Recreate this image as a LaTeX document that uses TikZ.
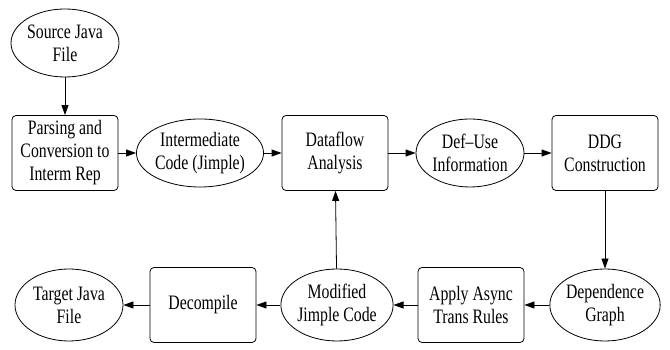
\documentclass[tikz,border=0pt]{standalone}
\usepackage{fontspec}
\setmainfont{Liberation Serif}[FakeStretch=0.77]
\usetikzlibrary{shapes.geometric,arrows.meta,positioning}

\begin{document}
\begin{tikzpicture}[x=1pt,y=1pt,->,>={Triangle[length=10pt,width=7pt]},auto,node distance=135pt,line width=0.8pt,
                    oval node/.style={ellipse,draw,minimum width=108pt,minimum height=68pt,inner sep=0pt,align=center,font=\fontsize{20.5}{23}\selectfont},
                    box node/.style={rectangle,rounded corners=4pt,draw,minimum width=106pt,minimum height=75pt,inner sep=0pt,align=center,font=\fontsize{20.5}{23}\selectfont}]

  \useasboundingbox (0,0) rectangle (670,350);

  \node[oval node] (1) at (65,307) {Source Java\\File};
  \node[box node] (2) at (65,197) {Parsing and\\Conversion to\\Interm Rep};
  \node[oval node] (3) [right of=2] {Intermediate\\Code (Jimple)};
  \node[box node] (4) [right of=3] {Dataflow\\Analysis};
  \node[oval node] (5) [right of=4] {Def--Use\\Information};
  \node[box node] (6) [right of=5] {DDG\\Construction};
  \node[oval node, minimum height=72pt] (7) [below of=6, node distance=152pt] {Dependence\\Graph};
  \node[box node] (8) [left of=7, node distance=134pt] {Apply Async\\Trans Rules};
  \node[oval node, minimum height=72pt] (9) [left of=8, node distance=134pt] {Modified\\Jimple Code};
  \node[box node] (10) [left of=9, node distance=134pt] {Decompile};
  \node[oval node, minimum height=72pt] (11) [left of=10, node distance=134pt] {Target Java\\File};

  \path
  (1) edge (2)
  (2) edge (3)
  (3) edge (4)
  (4) edge (5)
  (5) edge (6)
  (6) edge (7)
  (7) edge (8)
  (8) edge (9)
  (9) edge (4)
  (9) edge (10)
  (10) edge (11);

\end{tikzpicture}
\end{document}
